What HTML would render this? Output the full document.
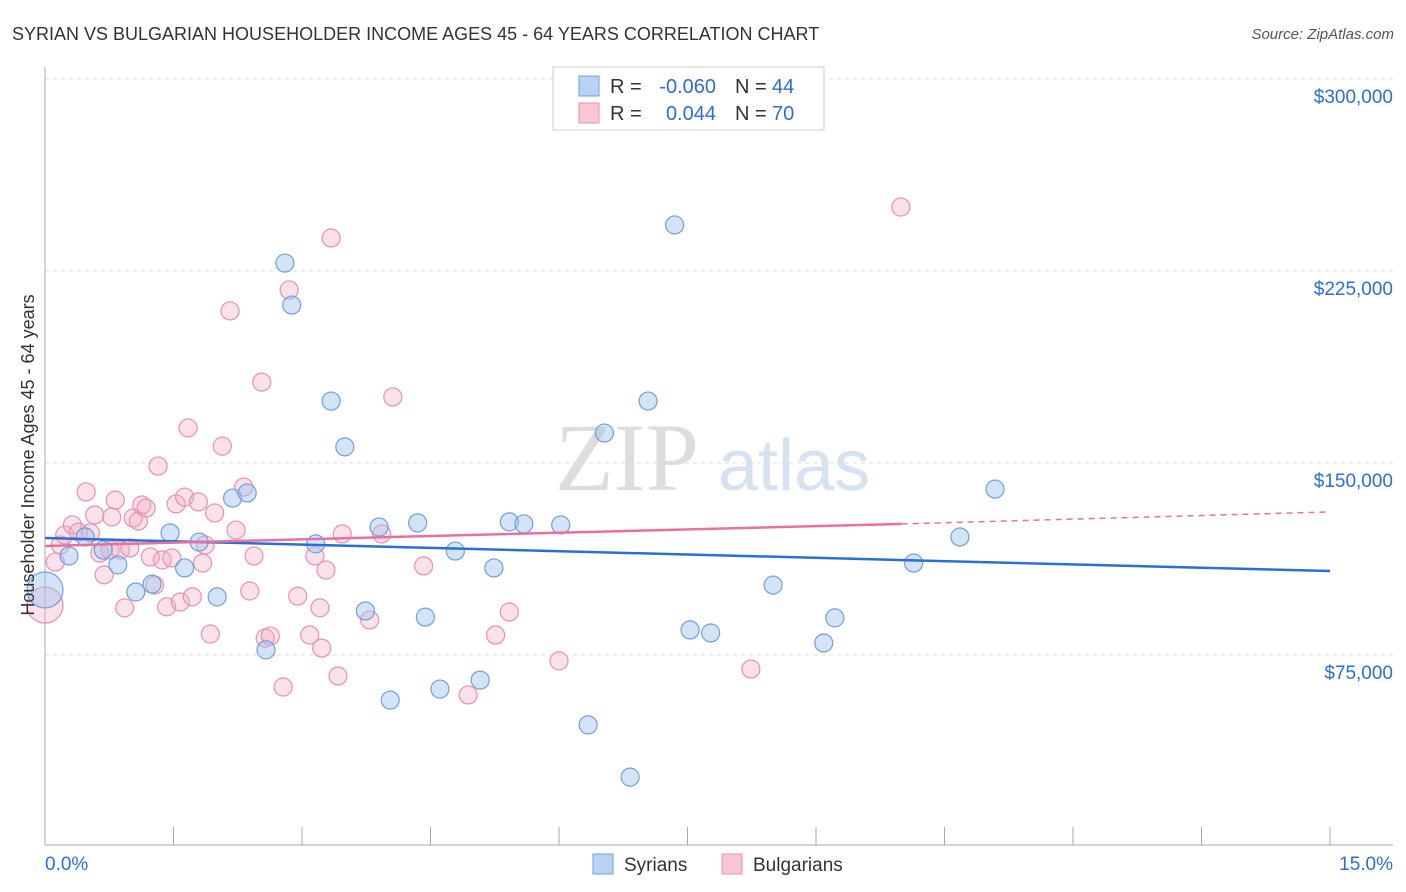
<!DOCTYPE html>
<html><head><meta charset="utf-8"><style>
body{margin:0;background:#fff;font-family:"Liberation Sans",sans-serif;}
svg{display:block}
</style></head><body>
<svg id="chart" width="1406" height="892">
<text x="12" y="40" font-size="18" fill="#333">SYRIAN VS BULGARIAN HOUSEHOLDER INCOME AGES 45 - 64 YEARS CORRELATION CHART</text>
<text x="1394" y="39" font-size="15" fill="#555" font-style="italic" text-anchor="end">Source: ZipAtlas.com</text>
<g>
<text x="555" y="490" font-size="96" fill="#ddd" font-family="Liberation Serif,serif">ZIP</text>
<text x="718" y="490" font-size="72" fill="#d6e2f3">atlas</text>
</g>
<g id="grid"></g>
<g id="axes"></g>
<g id="marks"></g>
<g>
<rect x="553" y="67" width="271" height="63" fill="#fff" stroke="#ccc"/>
<rect x="579" y="76" width="20" height="20" fill="#b8d3f4" stroke="#6f9fdd"/>
<rect x="579" y="103" width="20" height="20" fill="#f9c6d6" stroke="#e890b0"/>
<text x="610" y="93" font-size="20" fill="#333">R =</text>
<text x="716" y="93" font-size="20" fill="#2a6fd6" text-anchor="end">-0.060</text>
<text x="735" y="93" font-size="20" fill="#333">N =</text>
<text x="772" y="93" font-size="20" fill="#2a6fd6">44</text>
<text x="610" y="120" font-size="20" fill="#333">R =</text>
<text x="716" y="120" font-size="20" fill="#2a6fd6" text-anchor="end">0.044</text>
<text x="735" y="120" font-size="20" fill="#333">N =</text>
<text x="772" y="120" font-size="20" fill="#2a6fd6">70</text>
</g>
<g>
<rect x="593" y="854" width="20" height="20" fill="#b8d3f4" stroke="#6f9fdd"/>
<text x="624" y="871" font-size="19" fill="#333">Syrians</text>
<rect x="722" y="854" width="20" height="20" fill="#f9c6d6" stroke="#e890b0"/>
<text x="753" y="871" font-size="19" fill="#333">Bulgarians</text>
</g>
<text transform="translate(34,455) rotate(-90)" font-size="18" fill="#333" text-anchor="middle">Householder Income Ages 45 - 64 years</text>
</svg>
<script>
const yTicks=[75,150,225,300];
const yTickLabels=["$75,000","$150,000","$225,000","$300,000"];
const xTicks=[0,1.5,3,4.5,6,7.5,9,10.5,12,13.5,15];
const syrX=[0,0.28,0.47,0.68,0.85,1.06,1.25,1.46,1.63,1.80,2.01,2.19,2.36,2.58,2.80,2.88,3.16,3.34,3.50,3.74,3.90,4.03,4.35,4.44,4.61,4.79,5.08,5.24,5.42,5.59,6.02,6.34,6.53,6.83,7.04,7.35,7.53,7.77,8.50,9.09,9.22,10.14,10.68,11.09];
const syrY=[100.4,113.7,121.1,116.0,110.2,99.6,102.7,122.7,109.0,119.1,97.7,136.3,138.3,77.0,228.1,211.7,118.4,174.2,156.3,92.2,125.0,57.4,126.6,89.8,61.7,115.6,65.2,109.0,127.0,126.2,125.8,47.7,161.7,27.3,174.2,243.0,84.8,83.6,102.3,79.7,89.5,110.9,121.1,139.8];
const bulX=[0,0.12,0.18,0.23,0.32,0.39,0.48,0.53,0.58,0.64,0.69,0.76,0.78,0.82,0.88,0.93,0.99,1.03,1.09,1.13,1.18,1.23,1.28,1.32,1.37,1.42,1.48,1.53,1.58,1.63,1.67,1.72,1.79,1.84,1.87,1.93,1.98,2.07,2.16,2.23,2.32,2.39,2.44,2.53,2.57,2.63,2.78,2.85,2.95,3.09,3.15,3.21,3.23,3.28,3.34,3.42,3.47,3.79,3.93,4.06,4.42,4.94,5.26,5.42,6.0,8.24,9.99];
const bulY=[94.5,111.3,118.0,121.9,125.8,123.0,138.7,122.7,129.7,114.8,106.3,116.0,128.9,135.5,116.0,93.4,116.8,128.5,127.3,133.6,132.4,113.3,102.3,148.8,112.1,93.8,112.9,134.0,95.7,136.7,163.7,97.7,134.8,110.9,118.0,83.2,130.5,156.6,209.4,123.8,140.6,100.0,113.7,181.6,81.6,82.4,62.5,217.6,98.0,82.8,113.7,93.4,77.7,108.2,237.9,66.8,122.3,88.7,122.3,175.8,109.8,59.4,82.8,91.8,72.7,69.5,250.0];
const syrTrend=[120.7,107.8];
const bulTrend=[117.6,126.2,130.9];
const bulTrendX=[0,10,15];

const X=v=>45+v/15*1285;
const Y=v=>655-(v-75)/75*192;
const NS="http://www.w3.org/2000/svg";
function mk(t,a,p){const e=document.createElementNS(NS,t);for(const k in a)e.setAttribute(k,a[k]);p.appendChild(e);return e;}
const grid=document.getElementById('grid'),axes=document.getElementById('axes'),marks=document.getElementById('marks');
yTicks.forEach((t,i)=>{
 const l=mk('line',{x1:45,x2:1393,y1:Y(t),y2:Y(t),stroke:'#ddd','stroke-dasharray':'4,4'},grid);
 
 
 const tx=mk('text',{x:1393,y:Y(t)+24,'font-size':19,fill:'#2a6fd6','text-anchor':'end'},axes);
 tx.textContent=yTickLabels[i];
 
 
});
const ax=mk('line',{x1:45,x2:1393,y1:845,y2:845,stroke:'#aaa'},axes);


const ay=mk('line',{x1:45,x2:45,y1:67,y2:845,stroke:'#aaa'},axes);


xTicks.forEach(t=>{
 const l=mk('line',{x1:X(t),x2:X(t),y1:827,y2:845,stroke:'#aaa'},axes);
 
 
});
const x0=mk('text',{x:45,y:870,'font-size':19,fill:'#2a6fd6'},axes);x0.textContent='0.0%';


const x1=mk('text',{x:1393,y:870,'font-size':19,fill:'#2a6fd6','text-anchor':'end'},axes);x1.textContent='15.0%';


bulX.forEach((v,i)=>{
 const c=mk('circle',{cx:X(v),cy:Y(bulY[i]),r:i===0?18:9,fill:'rgba(245,170,195,0.35)',stroke:'#e890b0','stroke-width':1.2},marks);
 
 
});
syrX.forEach((v,i)=>{
 const c=mk('circle',{cx:X(v),cy:Y(syrY[i]),r:i===0?18:9,fill:'rgba(160,196,240,0.45)',stroke:'#6f9fdd','stroke-width':1.2},marks);
 
 
});
const sl=mk('line',{x1:X(0),y1:Y(syrTrend[0]),x2:X(15),y2:Y(syrTrend[1]),stroke:'#2a6fd6','stroke-width':2.5},marks);


const bl=mk('line',{x1:X(bulTrendX[0]),y1:Y(bulTrend[0]),x2:X(bulTrendX[1]),y2:Y(bulTrend[1]),stroke:'#e8719c','stroke-width':2.5},marks);


const bd=mk('line',{x1:X(bulTrendX[1]),y1:Y(bulTrend[1]),x2:X(bulTrendX[2]),y2:Y(bulTrend[2]),stroke:'#e8719c','stroke-width':1.5,'stroke-dasharray':'6,5'},marks);


</script>
</body></html>
